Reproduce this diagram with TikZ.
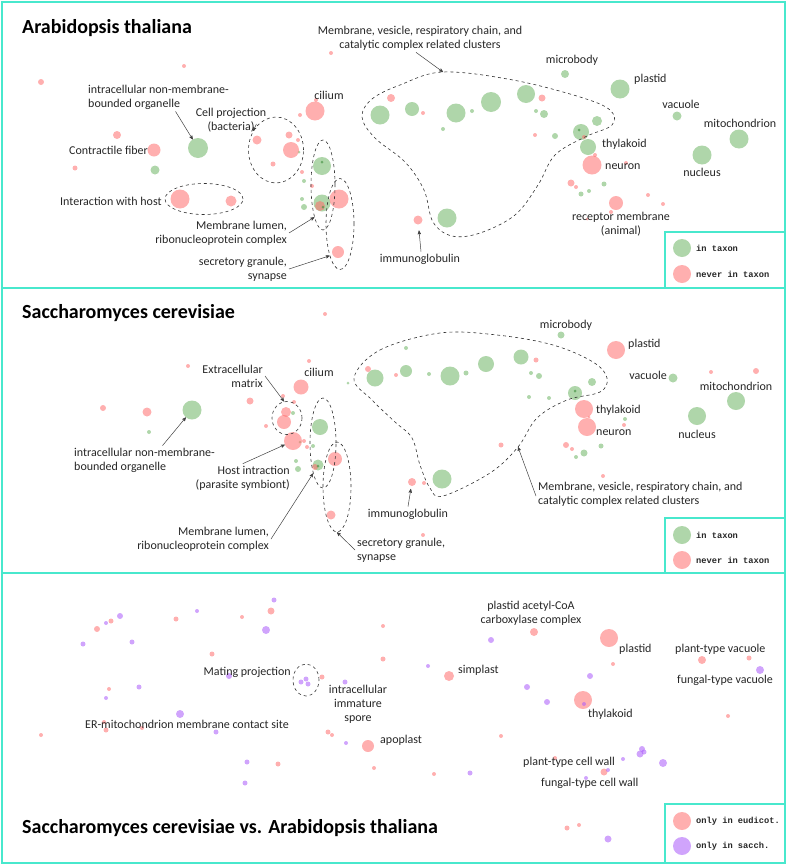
\documentclass[tikz,border=0pt]{standalone}
\usepackage{fontspec}
\setmainfont{Carlito}
\newfontfamily\legendfont{Liberation Mono}
\usepackage{tikz}
\usetikzlibrary{shapes.geometric}
\usetikzlibrary{arrows}
\definecolor{framecol}{RGB}{72,232,205}
\definecolor{incol}{RGB}{110,180,100}
\definecolor{nevercol}{RGB}{255,110,110}
\definecolor{sacchcol}{RGB}{170,90,250}
\definecolor{darkdot}{RGB}{60,140,60}
\tikzset{
	in dot/.style={fill=incol,fill opacity=0.55},
	never dot/.style={fill=nevercol,fill opacity=0.55},
	sacch dot/.style={fill=sacchcol,fill opacity=0.55},
	core dot/.style={fill=darkdot,fill opacity=0.6},
	point node/.style={circle,inner sep=0pt,outer sep=0pt},
	label text/.style={font=\fontsize{12}{14}\selectfont,text=black!85,inner sep=2pt},
	title text/.style={font=\fontsize{20}{24}\selectfont\bfseries,text=black,inner sep=0pt,anchor=west},
	legend text/.style={font=\legendfont\bfseries\fontsize{8.7}{10}\selectfont,text=black!85,inner sep=0pt,anchor=west},
	group/.style={ellipse,draw=black!80,dashed,line width=0.6pt,inner sep=0pt},
	blob/.style={draw=black!80,dashed,line width=0.6pt},
	pointer/.style={->,draw=black!75,line width=0.5pt},
	panel/.style={draw=framecol,line width=1.8pt},
	legend box/.style={draw=framecol,line width=1.2pt}
}

\begin{document}
\begin{tikzpicture}[x=1pt,y=-1pt,>=stealth']
	\useasboundingbox (0,0) rectangle (787,865);

	\draw[panel] (2,2) rectangle (785,288);
	\draw[panel] (2,288) rectangle (785,573);
	\draw[panel] (2,573) rectangle (785,863);

	% Arabidopsis thaliana
	\foreach \x/\y/\r in {155/170/4.5, 322/166/9, 304/181/2, 322/203/8.5, 302/199/2, 304/207/3, 299/152/1.5,
		380/115/9.5, 412/109/7, 456/113/9.5, 472/111/2, 491/102/10, 443/129/2, 526/94/9, 536/111/2,
		544/114/4, 555/136/3, 581/132/8, 597/121/5, 588/147/8, 581/194/2.5, 589/191/2, 604/184/2.5,
		447/218/9.5, 565/74/4, 620/89/9.5, 677/116/4.5, 739/139/9.5, 702/155/9.5}
		\fill[in dot] (\x,\y) circle (\r pt);
	\foreach \x/\y/\r in {41/82/3, 184/66/2, 331/53/2, 117/135/4, 154/150/6.5, 75/168/2.5, 180/199/9.5,
		231/201/5.5, 257/140/4.5, 289/135/3.5, 291/150/8, 273/164/2.5, 298/140/2, 315/111/9.5, 316/100/2,
		300/115/2, 302/172/2, 312/186/2, 320/206/5, 339/199/9.5, 338/252/6, 391/98/4, 423/113/2,
		542/98/3.5, 535/135/2, 584/137/2, 595/155/2, 592/165/9.5, 626/163/2, 571/183/3.5, 576/187/2,
		616/203/7, 611/212/2, 587/219/1.5, 648/195/2, 663/204/2}
		\fill[never dot] (\x,\y) circle (\r pt);
	\foreach \x/\y in {322/162, 323/207, 579/130}
		\fill[core dot] (\x,\y) circle (1.5pt);
	\node[point node,in dot,minimum size=20pt] (orgCircA) at (198,148) {};
	\node[point node,never dot,minimum size=9pt] (immCircA) at (418,220) {};

	\node[group,minimum width=78pt,minimum height=31pt] (hostEllA) at (204,199) {};
	\node[group,minimum width=55pt,minimum height=66pt] (cellEllA) at (276,150) {};
	\node[group,minimum width=24pt,minimum height=90pt] (lumEllA) at (323,185) {};
	\node[group,minimum width=28pt,minimum height=91pt] (secEllA) at (340,224) {};
	\draw[blob] plot[smooth cycle,tension=0.6] coordinates {(362,117) (372,99) (400,85) (443,72) (513,80)
		(580,97) (610,110) (612,125) (585,137) (555,155) (538,185) (515,215) (480,233) (452,236)
		(433,222) (424,190) (405,162) (375,138)};
	\coordinate (tipClusterA) at (443,72);

	\node[title text] (titleA) at (22,28) {Arabidopsis thaliana};
	\node[label text,align=center] (clusterA) at (420,38) {Membrane, vesicle, respiratory chain, and\\catalytic complex related clusters};
	\node[label text,align=left,anchor=west] (organelleA) at (86,97) {intracellular non-membrane-\\bounded organelle};
	\node[label text,align=center] (cellproj) at (231,120) {Cell projection\\(bacteria)};
	\node[label text,anchor=west] (contractile) at (67,150) {Contractile fiber};
	\node[label text] (ciliumA) at (329,95) {cilium};
	\node[label text,anchor=west] (hostA) at (58,201) {Interaction with host};
	\node[label text,align=right,anchor=east] (lumenA) at (289,233) {Membrane lumen,\\ribonucleoprotein complex};
	\node[label text,align=right,anchor=east] (secretoryA) at (289,269) {secretory granule,\\synapse};
	\node[label text] (immunoA) at (420,259) {immunoglobulin};
	\node[label text] (microbodyA) at (572,60) {microbody};
	\node[label text,anchor=west] (plastidA) at (632,79) {plastid};
	\node[label text] (vacuoleA) at (681,104) {vacuole};
	\node[label text] (mitoA) at (740,123) {mitochondrion};
	\node[label text,anchor=west] (thylakoidA) at (600,144) {thylakoid};
	\node[label text,anchor=west] (neuronA) at (603,167) {neuron};
	\node[label text] (nucleusA) at (702,172) {nucleus};
	\node[label text,align=center] (receptorA) at (621,224) {receptor membrane\\(animal)};

	\draw[pointer] ([xshift=-4pt]clusterA.south) -- (tipClusterA);
	\draw[pointer] ([xshift=17pt]organelleA.south) -- (orgCircA);
	\draw[pointer] ([xshift=-12pt,yshift=-4pt]cellproj.east) -- (cellEllA.140);
	\draw[pointer] (lumenA.east) -- (lumEllA.-105);
	\draw[pointer] (secretoryA.east) -- (secEllA.-108);
	\draw[pointer,shorten >=6pt] ([xshift=1pt]immunoA.north) -- (immCircA);

	\draw[legend box] (665,232) rectangle (785,288);
	\node[point node,in dot,minimum size=18pt] (legInA) at (682,248) {};
	\node[point node,never dot,minimum size=18pt] (legNeverA) at (682,274) {};
	\node[legend text] at (696,248) {in taxon};
	\node[legend text] at (696,274) {never in taxon};

	% Saccharomyces cerevisiae
	\foreach \x/\y/\r in {149/432/2, 293/413/2, 300/442/1.5, 313/446/2, 320/427/8, 318/465/5.5, 296/461/2,
		298/469/3, 375/378/8.5, 348/383/1.5, 406/348/2, 406/371/6, 429/374/2, 450/376/9.5, 466/373/2.5,
		486/364/8, 521/357/7.5, 531/373/2, 539/376/3, 529/397/2, 549/398/2, 575/393/7, 592/382/4,
		625/419/2, 584/453/3.5, 576/457/2, 601/446/2.5, 442/479/9.5, 561/335/3.5, 673/378/4.5,
		736/401/9, 697/416/9}
		\fill[in dot] (\x,\y) circle (\r pt);
	\foreach \x/\y/\r in {325/314/2, 309/361/2, 188/366/2, 301/387/7.5, 250/401/3.5, 103/408/3, 147/412/4.5,
		286/412/5, 284/422/7, 283/396/2, 294/402/2, 266/426/2, 304/441/2, 307/447/2, 315/467/3,
		335/459/7, 331/515/4.5, 424/483/2, 423/535/2, 368/369/3, 396/375/2, 536/360/2.5, 584/409/9,
		587/427/9, 589/417/1.5, 624/425/2, 501/445/2.5, 566/445/3, 572/449/2, 603/476/2, 616/350/9,
		711/372/2, 756/371/3}
		\fill[never dot] (\x,\y) circle (\r pt);
	\foreach \x/\y in {575/391, 318/466}
		\fill[core dot] (\x,\y) circle (1.5pt);
	\node[point node,in dot,minimum size=19pt] (orgCircB) at (192,410) {};
	\node[point node,never dot,minimum size=18pt] (hostCircB) at (293,441) {};
	\node[point node,never dot,minimum size=8pt] (immCircB) at (412,482) {};

	\node[group,minimum width=30pt,minimum height=33pt] (extEllB) at (287,418) {};
	\node[group,minimum width=26pt,minimum height=90pt] (lumEllB) at (323,443) {};
	\node[group,minimum width=28pt,minimum height=90pt] (secEllB) at (337,487) {};
	\draw[blob] plot[smooth cycle,tension=0.6] coordinates {(354,378) (380,350) (440,333) (497,335)
		(553,345) (593,362) (607,378) (600,392) (567,400) (537,418) (518,447) (490,473) (443,496)
		(430,488) (420,465) (412,438) (395,422) (372,400)};
	\coordinate (tipClusterB) at (518,447);

	\node[title text] (titleB) at (22,313) {Saccharomyces cerevisiae};
	\node[label text,align=right,anchor=east] (extraB) at (265,376) {Extracellular\\matrix};
	\node[label text] (ciliumB) at (319,372) {cilium};
	\node[label text,align=left,anchor=west] (organelleB) at (72,460) {intracellular non-membrane-\\bounded organelle};
	\node[label text,align=right,anchor=east] (hostB) at (292,478) {Host intraction\\(parasite symbiont)};
	\node[label text,align=right,anchor=east] (lumenB) at (271,539) {Membrane lumen,\\ribonucleoprotein complex};
	\node[label text,align=left,anchor=west] (secretoryB) at (355,550) {secretory granule,\\synapse};
	\node[label text] (immunoB) at (408,514) {immunoglobulin};
	\node[label text,align=left,anchor=west] (clusterB) at (536,494) {Membrane, vesicle, respiratory chain, and\\catalytic complex related clusters};
	\node[label text] (microbodyB) at (566,325) {microbody};
	\node[label text,anchor=west] (plastidB) at (626,344) {plastid};
	\node[label text,anchor=east] (vacuoleB) at (669,375) {vacuole};
	\node[label text] (mitoB) at (736,386) {mitochondrion};
	\node[label text,anchor=west] (thylakoidB) at (594,410) {thylakoid};
	\node[label text,anchor=west] (neuronB) at (594,433) {neuron};
	\node[label text] (nucleusB) at (697,434) {nucleus};

	\draw[pointer] (extraB.east) -- (extEllB.100);
	\draw[pointer] ([xshift=18pt]organelleB.north) -- (orgCircB);
	\draw[pointer] (hostB.north) -- (hostCircB);
	\draw[pointer] (lumenB.east) -- (lumEllB.-108);
	\draw[pointer] (secretoryB.west) -- (secEllB.south);
	\draw[pointer,shorten >=3pt] ([xshift=0pt]immunoB.north) -- (immCircB);
	\draw[pointer] ([yshift=-2pt]clusterB.west) -- (tipClusterB);

	\draw[legend box] (665,518) rectangle (785,573);
	\node[point node,in dot,minimum size=18pt] (legInB) at (682,535) {};
	\node[point node,never dot,minimum size=18pt] (legNeverB) at (682,560) {};
	\node[legend text] at (696,535) {in taxon};
	\node[legend text] at (696,560) {never in taxon};

	% Saccharomyces cerevisiae vs. Arabidopsis thaliana
	\foreach \x/\y/\r in {271/611/3.5, 242/617/2, 176/619/2.5, 111/621/2.5, 97/629/3, 212/654/2.5, 322/677/2.5,
		109/689/2, 104/722/2, 106/730/2.5, 142/728/2, 41/735/2, 328/732/2.5, 332/735/2, 368/746/6,
		374/768/2, 278/764/2.5, 383/626/2, 383/659/2.5, 534/632/4, 609/638/9, 613/664/2, 449/676/5,
		583/700/9, 702/660/4, 749/658/2.5, 728/716/2, 501/736/2, 555/758/2, 604/772/3.5, 434/774/2,
		567/828/2.5, 579/825/2}
		\fill[never dot] (\x,\y) circle (\r pt);
	\foreach \x/\y/\r in {274/600/2.5, 197/611/2, 120/616/3, 106/623/2, 83/644/2.5, 132/642/2.5, 266/630/4,
		229/676/3, 306/679/2.5, 301/682/2.5, 308/684/2.5, 345/682/2.5, 139/687/2.5, 106/698/2, 180/714/4,
		216/732/2.5, 346/743/2, 247/762/2.5, 245/783/2.5, 491/640/3, 428/666/2, 590/676/3, 527/687/3,
		547/702/3, 584/704/2, 760/670/4, 642/749/3, 640/754/3.5, 644/752/2.5, 663/763/4, 623/759/2,
		608/770/2, 586/778/2, 470/773/2.5, 608/839/3.5}
		\fill[sacch dot] (\x,\y) circle (\r pt);

	\node[group,minimum width=26pt,minimum height=32pt] (matingEll) at (306,680) {};

	\node[title text] (titleC) at (22,828) {Saccharomyces cerevisiae vs. Arabidopsis thaliana};
	\node[label text,anchor=east] (mating) at (293,672) {Mating projection};
	\node[label text,align=center] (spore) at (358,704) {intracellular\\immature\\spore};
	\node[label text,anchor=west] (contact) at (83,724) {ER-mitochondrion membrane contact site};
	\node[label text,anchor=west] (apoplast) at (378,740) {apoplast};
	\node[label text,align=center] (acetyl) at (531,613) {plastid acetyl-CoA\\carboxylase complex};
	\node[label text,anchor=west] (plastidC) at (617,649) {plastid};
	\node[label text,anchor=west] (simplast) at (456,670) {simplast};
	\node[label text,anchor=west] (thylakoidC) at (586,714) {thylakoid};
	\node[label text,anchor=west] (plantVac) at (673,649) {plant-type vacuole};
	\node[label text,anchor=west] (fungalVac) at (675,680) {fungal-type vacuole};
	\node[label text,anchor=west] (plantWall) at (521,762) {plant-type cell wall};
	\node[label text,anchor=west] (fungalWall) at (539,783) {fungal-type cell wall};

	\draw[legend box] (665,804) rectangle (785,863);
	\node[point node,never dot,minimum size=18pt] (legEudicot) at (682,821) {};
	\node[point node,sacch dot,minimum size=18pt] (legSacch) at (682,846) {};
	\node[legend text] at (696,821) {only in eudicot.};
	\node[legend text] at (696,846) {only in sacch.};
\end{tikzpicture}
\end{document}
